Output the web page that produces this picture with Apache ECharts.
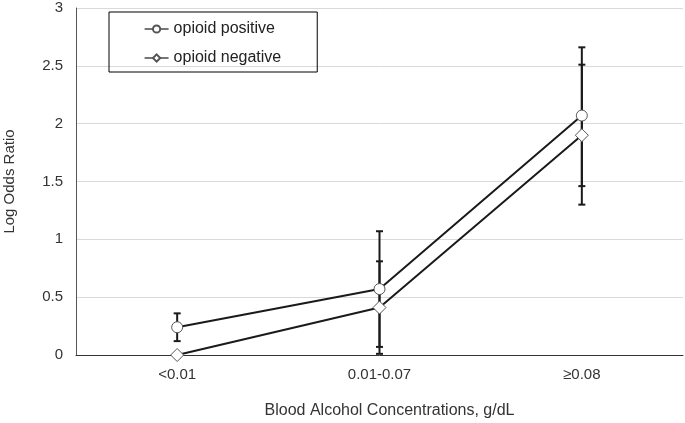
<!DOCTYPE html>
<html>
<head>
<meta charset="utf-8">
<script src="https://cdn.jsdelivr.net/npm/echarts@6/dist/echarts.min.js"></script>
<style>html,body{margin:0;padding:0;background:#fff}#c{width:685px;height:423px}</style>
</head>
<body>
<div id="c"></div>
<script>
const categories = ['<0.01', '0.01-0.07', '≥0.08'];
const positiveValues = [0.24, 0.57, 2.07];
const positiveLow = [0.12, 0.07, 1.46];
const positiveHigh = [0.36, 1.07, 2.66];
const negativeValues = [0, 0.41, 1.90];
const negativeLow = [null, 0.01, 1.30];
const negativeHigh = [null, 0.81, 2.51];
const yTicks = { min: 0, max: 3, interval: 0.5 };

function errData(low, high) {
  const out = [];
  for (let i = 0; i < low.length; i++) {
    if (low[i] != null && high[i] != null) out.push([i, low[i], high[i]]);
  }
  return out;
}

function renderErr(params, api) {
  const x = api.value(0);
  const lo = api.coord([x, api.value(1)]);
  const hi = api.coord([x, api.value(2)]);
  const w = 3.5;
  const style = { stroke: '#1a1a1a', lineWidth: 2, fill: null };
  return {
    type: 'group',
    children: [
      { type: 'line', shape: { x1: lo[0], y1: lo[1], x2: hi[0], y2: hi[1] }, style },
      { type: 'line', shape: { x1: lo[0] - w, y1: lo[1], x2: lo[0] + w, y2: lo[1] }, style },
      { type: 'line', shape: { x1: hi[0] - w, y1: hi[1], x2: hi[0] + w, y2: hi[1] }, style }
    ]
  };
}

const chart = echarts.init(document.getElementById('c'));
const font = 'Liberation Sans, Arial, sans-serif';
chart.setOption({
  animation: false,
  textStyle: { fontFamily: font },
  grid: { left: 76, right: 2, top: 8, bottom: 68, containLabel: false, outerBoundsMode: 'none' },
  legend: {
    orient: 'vertical',
    left: 109,
    top: 12,
    padding: [9, 36, 6, 35],
    itemGap: 13,
    itemWidth: 24,
    itemHeight: 9,
    borderColor: '#000',
    borderWidth: 1,
    lineStyle: { width: 1.2, color: '#1a1a1a' },
    textStyle: { fontSize: 16, color: '#222', fontFamily: font },
    data: ['opioid positive', 'opioid negative']
  },
  xAxis: {
    type: 'category',
    data: categories,
    boundaryGap: true,
    axisLine: { lineStyle: { color: '#333', width: 1 } },
    axisTick: { show: false },
    axisLabel: { fontSize: 15, color: '#333', margin: 12, fontFamily: font },
    name: 'Blood Alcohol Concentrations, g/dL',
    nameLocation: 'middle',
    nameGap: 48,
    nameTextStyle: { fontSize: 16, color: '#333', fontFamily: font, padding: [0, 0, 0, 20] }
  },
  yAxis: {
    type: 'value',
    min: yTicks.min,
    max: yTicks.max,
    interval: yTicks.interval,
    axisLine: { show: true, lineStyle: { color: '#555', width: 1 } },
    axisTick: { show: false },
    axisLabel: { fontSize: 15, color: '#333', margin: 13, fontFamily: font },
    splitLine: { lineStyle: { color: '#d9d9d9', width: 1 } },
    name: 'Log Odds Ratio',
    nameLocation: 'middle',
    nameGap: 59,
    nameTextStyle: { fontSize: 15, color: '#333', fontFamily: font }
  },
  series: [
    {
      type: 'custom',
      name: 'errPos',
      renderItem: renderErr,
      data: errData(positiveLow, positiveHigh),
      z: 1,
      encode: { x: 0, y: [1, 2] },
      silent: true
    },
    {
      type: 'custom',
      name: 'errNeg',
      renderItem: renderErr,
      data: errData(negativeLow, negativeHigh),
      z: 1,
      encode: { x: 0, y: [1, 2] },
      silent: true
    },
    {
      type: 'line',
      name: 'opioid positive',
      data: positiveValues,
      symbol: 'circle',
      symbolSize: 11,
      showAllSymbol: true,
      z: 3,
      lineStyle: { color: '#1a1a1a', width: 2 },
      itemStyle: { color: '#fff', borderColor: '#555', borderWidth: 1 }
    },
    {
      type: 'line',
      name: 'opioid negative',
      data: negativeValues,
      symbol: 'diamond',
      symbolSize: 13,
      showAllSymbol: true,
      z: 3,
      lineStyle: { color: '#1a1a1a', width: 2 },
      itemStyle: { color: '#fff', borderColor: '#555', borderWidth: 1 }
    }
  ]
});
</script>
</body>
</html>
